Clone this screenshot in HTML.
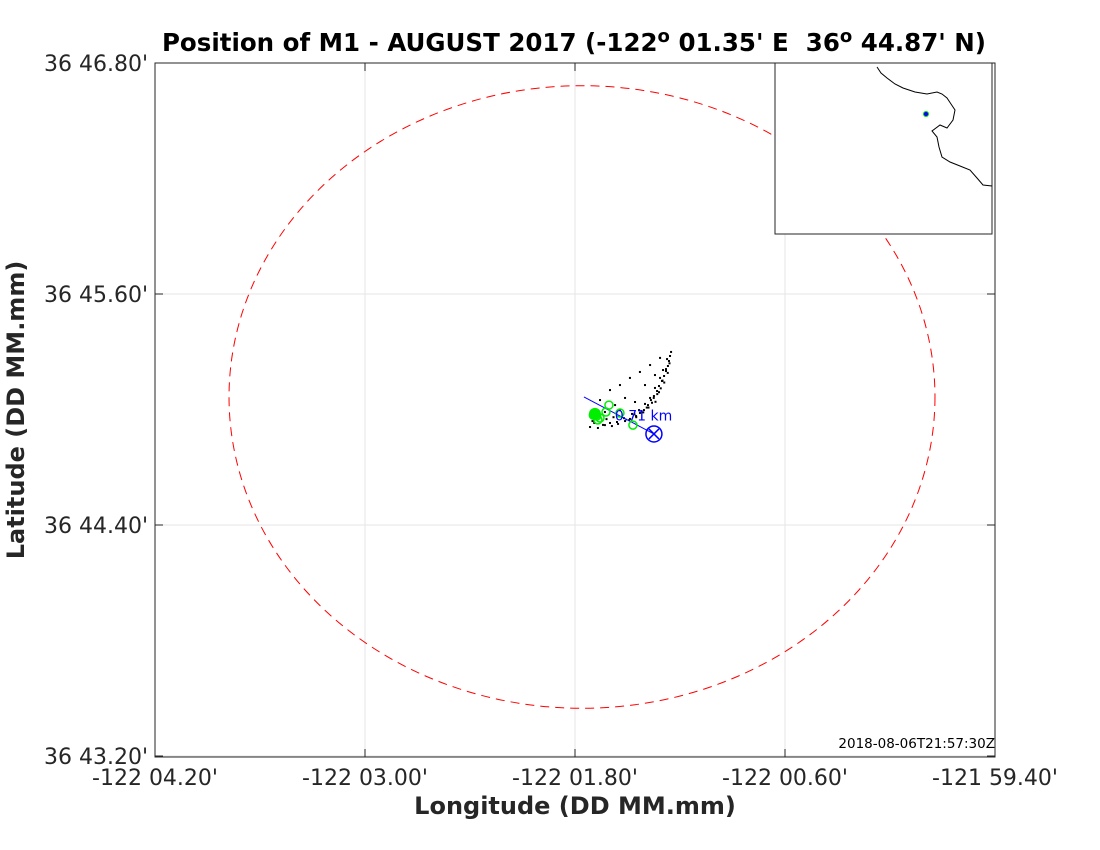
<!DOCTYPE html>
<html><head><meta charset="utf-8"><style>
body{margin:0;background:#fff;}
svg{display:block;font-family:"DejaVu Sans","Liberation Sans",sans-serif;}
</style></head><body>
<svg id="chart" width="1100" height="850" viewBox="0 0 1100 850">
<rect width="1100" height="850" fill="#fff"/>
<text x="574" y="51" text-anchor="middle" font-size="24.5" font-weight="bold" fill="#000">Position of M1 - AUGUST 2017 (-122<tspan dy="-9" font-size="18">o</tspan><tspan dy="9"> 01.35' E &#160;36</tspan><tspan dy="-9" font-size="18">o</tspan><tspan dy="9"> 44.87' N)</tspan></text>
<g id="grid"></g>
<rect x="155" y="63" width="840" height="694" fill="none" stroke="#262626" stroke-width="1"/>
<g id="axes"></g>
<g id="marks"></g>
<text x="24" y="410" transform="rotate(-90 24 410)" font-size="24" font-weight="bold" fill="#262626" text-anchor="middle">Latitude (DD MM.mm)</text>
<text x="575" y="814" font-size="24" font-weight="bold" fill="#262626" text-anchor="middle">Longitude (DD MM.mm)</text>
<text x="995" y="748" font-size="13.5" fill="#000" text-anchor="end">2018-08-06T21:57:30Z</text>
<g id="inset">
<rect x="775" y="63" width="217" height="171" fill="#fff" stroke="#262626" stroke-width="1"/>
<polyline points="877,67 881,73 887,78 895,84 903,88 915,92 927,94 937,92 942,94 947,98 951,104 955,110 953,120 947,128 940,125 932,131 937,137 939,147 942,157 950,162 960,166 970,170 977,178 983,185 992,186" fill="none" stroke="#000" stroke-width="1"/>
<circle cx="926" cy="114" r="3" fill="#00dd00"/>
<circle cx="926" cy="114" r="2" fill="#0000ff"/>
</g>
</svg>
<script>
const xTicks=[4.2,3.0,1.8,0.6,-0.6];
const xTickLabels=["-122 04.20'","-122 03.00'","-122 01.80'","-122 00.60'","-121 59.40'"];
const yTicks=[46.8,45.6,44.4,43.2];
const yTickLabels=["36 46.80'","36 45.60'","36 44.40'","36 43.20'"];
const trackLon=[1.714,1.669,1.629,1.589,1.554,1.514,1.486,1.451,1.429,1.406,1.383,1.366,1.349,1.331,1.32,1.303,1.291,1.28,1.269,1.263,1.257,1.251,1.274,1.297,1.314,1.343,1.371,1.4,1.434,1.474,1.657,1.6,1.543,1.486,1.429,1.371,1.314,1.571,1.514,1.4,1.343,1.629,1.543,1.457,1.69,1.64,1.6,1.56,1.52,1.46,1.42,1.39,1.36,1.33,1.31,1.29,1.27,1.26,1.35,1.32,1.30,1.28,1.34,1.38,1.41,1.45,1.49,1.70,1.62,1.58];
const trackLat=[44.909,44.904,44.919,44.914,44.925,44.94,44.951,44.966,44.982,44.997,45.023,45.049,45.07,45.096,45.122,45.148,45.174,45.2,45.226,45.252,45.278,45.299,45.262,45.205,45.164,45.112,45.06,45.029,44.997,44.977,45.049,45.101,45.127,45.164,45.195,45.231,45.268,45.023,45.06,45.127,45.179,44.987,44.997,45.039,44.93,44.92,44.93,44.935,44.955,44.975,44.99,45.01,45.035,45.08,45.11,45.14,45.19,45.24,45.06,45.09,45.15,45.21,45.04,45.01,44.985,44.96,44.945,44.94,44.95,44.96];
const greenLon=[1.686,1.657,1.606,1.623,1.543,1.469,1.669,1.676,1.695];
const greenLat=[44.977,44.956,45.023,44.987,44.982,44.919,44.946,44.966,44.97];
const mooringLon=[1.349];
const mooringLat=[44.873];
const watchCenter=[1.76,45.065];
const watchRadius=[2.017,1.617];
const offsetLine=[[1.749,45.065],[1.349,44.873]];
const offsetLabel=["0.71 km"];

const X=m=>155+(4.2-m)*175;
const Y=l=>63+(46.8-l)*192.5;
const NS="http://www.w3.org/2000/svg";
function mk(t,a,p){const e=document.createElementNS(NS,t);for(const k in a)e.setAttribute(k,a[k]);p.appendChild(e);return e;}
const grid=document.getElementById('grid'),axes=document.getElementById('axes'),marks=document.getElementById('marks');
xTicks.forEach((v,i)=>{
 const x=X(v);
 const g=mk('line',{x1:x,x2:x,y1:63,y2:757,stroke:'#e6e6e6'},grid);
 
 
 mk('line',{x1:x,x2:x,y1:757,y2:749,stroke:'#262626'},axes);
 mk('line',{x1:x,x2:x,y1:63,y2:71,stroke:'#262626'},axes);
 const t=mk('text',{x:x,y:785,'font-size':22,fill:'#262626','text-anchor':'middle'},axes);
 t.textContent=xTickLabels[i];
 
 
});
yTicks.forEach((v,i)=>{
 const y=Y(v);
 const g=mk('line',{x1:155,x2:995,y1:y,y2:y,stroke:'#e6e6e6'},grid);
 
 
 mk('line',{x1:155,x2:163,y1:y,y2:y,stroke:'#262626'},axes);
 mk('line',{x1:995,x2:987,y1:y,y2:y,stroke:'#262626'},axes);
 const t=mk('text',{x:148,y:y+8,'font-size':22,fill:'#262626','text-anchor':'end'},axes);
 t.textContent=yTickLabels[i];
 
 
});
const cx=X(watchCenter[0]),cy=Y(watchCenter[1]);
const c=mk('ellipse',{cx:cx,cy:cy,rx:watchRadius[0]*175,ry:watchRadius[1]*192.5,fill:'none',stroke:'#ff0000','stroke-dasharray':'9 6'},marks);


trackLon.forEach((v,i)=>{
 const d=mk('rect',{x:X(v)-1,y:Y(trackLat[i])-1,width:2,height:2,fill:'#000'},marks);
 
 
});
const ln=mk('line',{x1:X(offsetLine[0][0]),y1:Y(offsetLine[0][1]),x2:X(offsetLine[1][0]),y2:Y(offsetLine[1][1]),stroke:'#0000ff'},marks);


greenLon.forEach((v,i)=>{
 const g=mk('circle',{cx:X(v),cy:Y(greenLat[i]),r:4,fill:'none',stroke:'#00ee00','stroke-width':1.5},marks);
 
 
});
const gb=mk('circle',{cx:X(greenLon[0]),cy:Y(greenLat[0]),r:6,fill:'#00ee00'},marks);


const mx=X(mooringLon[0]),my=Y(mooringLat[0]);
const mc=mk('circle',{cx:mx,cy:my,r:8,fill:'none',stroke:'#0000ff','stroke-width':1.5},marks);


mk('path',{d:`M${mx-5},${my-5}L${mx+5},${my+5}M${mx+5},${my-5}L${mx-5},${my+5}`,stroke:'#0000ff','stroke-width':1.5},marks);
const lbl=mk('text',{x:(X(offsetLine[0][0])+mx)/2-4,y:(Y(offsetLine[0][1])+my)/2+5,'font-size':14,fill:'#0000ff'},marks);
lbl.textContent=offsetLabel[0];


</script>
</body></html>
